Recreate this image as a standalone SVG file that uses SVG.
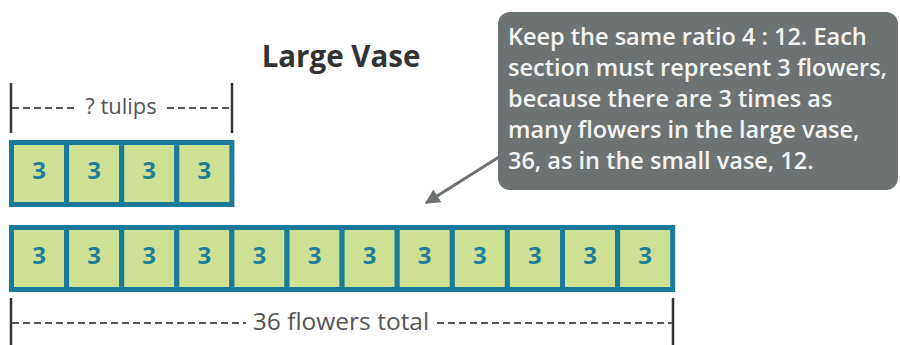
<svg xmlns="http://www.w3.org/2000/svg" width="900" height="345" viewBox="0 0 900 345">
<defs>
<style>
.cell{fill:#cde094;stroke:#1a7a99;stroke-width:5}
.num{font-family:"Open Sans","Liberation Sans",sans-serif;font-weight:700;font-size:24px;fill:#1f7e9c;text-anchor:middle}
.lbl{font-family:"Open Sans","Liberation Sans",sans-serif;font-size:22px;fill:#555;text-anchor:middle}
.dash{stroke:#555;stroke-width:2;stroke-dasharray:7 4;fill:none}
.tick{stroke:#333;stroke-width:2.5}
.title{font-family:"Open Sans","Liberation Sans",sans-serif;font-weight:700;font-size:29.5px;fill:#333;text-anchor:middle}
.note{font-family:"Open Sans","Liberation Sans",sans-serif;font-weight:600;font-size:23.5px;fill:#f4f4f4}
</style>
<marker id="ah" viewBox="0 0 10 10" refX="9" refY="5" markerWidth="5" markerHeight="5" orient="auto">
<path d="M0,0 L10,5 L0,10 z" fill="#6d7372"/>
</marker>
</defs>
<rect width="900" height="345" fill="#fff"/>
<text class="title" x="341" y="67">Large Vase</text>

<g id="small-bracket">
<line class="tick" x1="11" y1="83" x2="11" y2="133"/>
<line class="tick" x1="232" y1="83" x2="232" y2="133"/>
<line class="dash" x1="12" y1="108" x2="77" y2="108"/>
<line class="dash" x1="167" y1="108" x2="231" y2="108"/>
<text class="lbl" x="121" y="114">? tulips</text>
</g>

<g id="small-row">
<rect class="cell" x="11.5" y="142.5" width="55.1" height="62"/>
<rect class="cell" x="66.6" y="142.5" width="55.1" height="62"/>
<rect class="cell" x="121.7" y="142.5" width="55.1" height="62"/>
<rect class="cell" x="176.8" y="142.5" width="55.1" height="62"/>
<text class="num" x="39" y="179">3</text>
<text class="num" x="94.1" y="179">3</text>
<text class="num" x="149.2" y="179">3</text>
<text class="num" x="204.3" y="179">3</text>
</g>

<g id="large-row">
<rect class="cell" x="11.5" y="227.5" width="55.1" height="62"/>
<rect class="cell" x="66.6" y="227.5" width="55.1" height="62"/>
<rect class="cell" x="121.7" y="227.5" width="55.1" height="62"/>
<rect class="cell" x="176.8" y="227.5" width="55.1" height="62"/>
<rect class="cell" x="231.9" y="227.5" width="55.1" height="62"/>
<rect class="cell" x="287" y="227.5" width="55.1" height="62"/>
<rect class="cell" x="342.1" y="227.5" width="55.1" height="62"/>
<rect class="cell" x="397.2" y="227.5" width="55.1" height="62"/>
<rect class="cell" x="452.3" y="227.5" width="55.1" height="62"/>
<rect class="cell" x="507.4" y="227.5" width="55.1" height="62"/>
<rect class="cell" x="562.5" y="227.5" width="55.1" height="62"/>
<rect class="cell" x="617.6" y="227.5" width="55.1" height="62"/>
<text class="num" x="39" y="264">3</text>
<text class="num" x="94.1" y="264">3</text>
<text class="num" x="149.2" y="264">3</text>
<text class="num" x="204.3" y="264">3</text>
<text class="num" x="259.4" y="264">3</text>
<text class="num" x="314.5" y="264">3</text>
<text class="num" x="369.6" y="264">3</text>
<text class="num" x="424.7" y="264">3</text>
<text class="num" x="479.8" y="264">3</text>
<text class="num" x="534.9" y="264">3</text>
<text class="num" x="590" y="264">3</text>
<text class="num" x="645.1" y="264">3</text>
</g>

<g id="large-bracket">
<line class="tick" x1="11" y1="298" x2="11" y2="345"/>
<line class="tick" x1="673" y1="298" x2="673" y2="345"/>
<line class="dash" x1="12" y1="323" x2="246" y2="323"/>
<line class="dash" x1="437" y1="323" x2="672" y2="323"/>
<text class="lbl" x="341" y="330" style="font-size:24.5px">36 flowers total</text>
</g>

<g id="callout">
<rect x="498" y="12" width="400" height="178" rx="12" fill="#6d7372"/>
<text class="note" x="508" y="45">Keep the same ratio 4 : 12. Each</text>
<text class="note" x="508" y="76">section must represent 3 flowers,</text>
<text class="note" x="508" y="107">because there are 3 times as</text>
<text class="note" x="508" y="138">many flowers in the large vase,</text>
<text class="note" x="508" y="169">36, as in the small vase, 12.</text>
</g>

<g id="connectors">
<line x1="499" y1="157" x2="426" y2="203" stroke="#6d7372" stroke-width="3" marker-end="url(#ah)"/>
</g>
</svg>
